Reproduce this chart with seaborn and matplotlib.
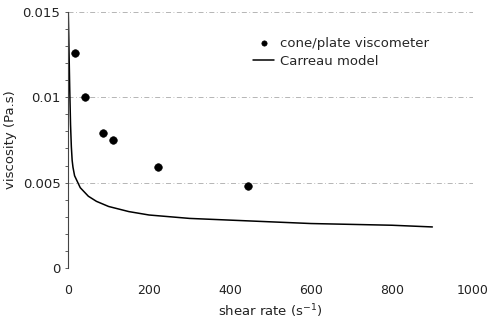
import matplotlib
matplotlib.use('Agg')
import matplotlib.pyplot as plt
import seaborn as sns
from matplotlib.ticker import MultipleLocator

# measured points (cone/plate viscometer)
shear_pts = [17, 41, 85, 111, 223, 444]
visc_pts = [0.0126, 0.0100, 0.0079, 0.0075, 0.0059, 0.0048]

# Carreau model curve
shear_model = [0, 2, 4, 6, 8, 10, 12, 16, 22, 30, 50, 70, 100, 150, 200,
               300, 400, 500, 600, 700, 800, 900]
visc_model = [0.0155, 0.0130, 0.0105, 0.0084, 0.0071, 0.0063, 0.0059,
              0.0054, 0.0051, 0.0047, 0.0042, 0.0039, 0.0036, 0.0033,
              0.0031, 0.0029, 0.0028, 0.0027, 0.0026, 0.00255, 0.0025, 0.0024]

sns.set_style('white')
plt.rcParams['font.family'] = ['DejaVu Sans']

fig = plt.figure(figsize=(4.9, 3.22), dpi=100)
ax = fig.add_axes([0.139, 0.168, 0.826, 0.795])

ax.set_xlim(0, 1000)
ax.set_ylim(0, 0.015)
ax.set_yticks([0, 0.005, 0.01, 0.015])
ax.set_yticklabels(['0', '0.005', '0.01', '0.015'])
ax.set_xticks([0, 200, 400, 600, 800, 1000])
ax.yaxis.set_minor_locator(MultipleLocator(0.001))
ax.grid(axis='y', color='#aaaaaa', linestyle=(0, (6, 3, 1, 3)), linewidth=0.6)

sns.lineplot(x=shear_model, y=visc_model, ax=ax, color='black', linewidth=1.1,
             label='Carreau model')
sns.scatterplot(x=shear_pts, y=visc_pts, ax=ax, color='black', s=30,
                marker='o', edgecolor='black', label='cone/plate viscometer', zorder=3)

for s in ['top', 'right', 'bottom']:
    ax.spines[s].set_visible(False)
ax.spines['left'].set_color('#444444')
ax.spines['left'].set_linewidth(0.8)
ax.tick_params(axis='y', which='both', left=True, length=2, width=0.6, colors='#444444',
               labelcolor='#222222', labelsize=9.5)
ax.tick_params(axis='x', bottom=False, labelsize=9, labelcolor='#222222', pad=8)

ax.set_xlabel('shear rate (s$^{-1}$)', fontsize=9.5, color='#222222', labelpad=4)
ax.set_ylabel('viscosity (Pa.s)', fontsize=9.5, color='#222222', labelpad=4)

h, l = ax.get_legend_handles_labels()
ax.legend(h[::-1], l[::-1], loc='upper right', bbox_to_anchor=(0.92, 0.95),
          frameon=False, fontsize=9.5, handlelength=1.6, handletextpad=0.4,
          labelspacing=0.4, markerscale=0.7)

fig.savefig('out.png', dpi=100)
